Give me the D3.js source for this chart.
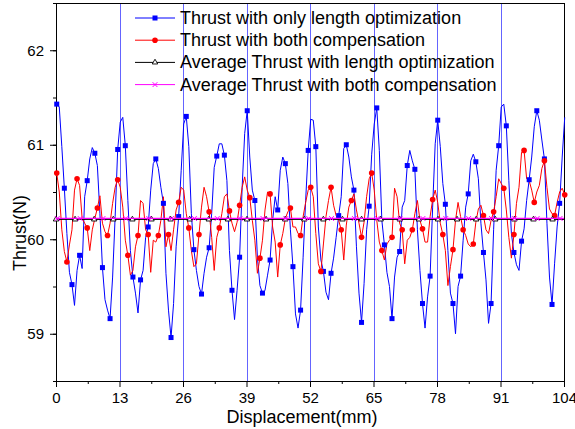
<!DOCTYPE html>
<html>
<head>
<meta charset="utf-8">
<script src="https://cdn.jsdelivr.net/npm/d3@7"></script>
<style>
  body { margin: 0; background: #fff; }
  text { font-family: "Liberation Sans", Arial, sans-serif; }
</style>
</head>
<body>
<div id="chart"></div>
<script>
// thrust samples, one every xStep mm starting at xStart
var xStart = 0.15, xStep = 0.52;

var thrustLength = [
  61.43, 61.40, 60.98, 60.54, 60.06, 59.65, 59.52, 59.30, 59.67, 59.83,
  59.69, 60.45, 60.62, 60.85, 60.97, 60.91, 60.78, 60.27, 59.70, 59.36,
  59.25, 59.16, 59.60, 60.24, 60.95, 61.24, 61.29, 60.99, 60.41, 59.88,
  59.60, 59.43, 59.22, 59.57, 59.67, 60.02, 60.13, 60.52, 60.80, 60.85,
  60.75, 60.55, 60.38, 59.64, 59.25, 58.96, 59.32, 59.92, 60.24, 60.73,
  61.22, 61.30, 60.98, 60.27, 59.89, 59.67, 59.50, 59.42, 59.64, 59.81,
  59.91, 60.27, 60.76, 60.88, 61.01, 61.01, 60.89, 60.62, 59.88, 59.46,
  59.15, 59.46, 59.81, 60.55, 61.12, 61.36, 60.87, 60.52, 60.41, 59.81,
  59.51, 59.43, 59.46, 59.62, 59.78, 60.20, 60.45, 60.31, 60.73, 60.87,
  60.80, 60.59, 60.10, 59.71, 59.21, 59.06, 59.25, 59.81, 60.41, 60.94,
  61.27, 61.26, 60.98, 60.13, 59.78, 59.66, 59.44, 59.36, 59.64, 59.80,
  60.02, 60.25, 60.45, 60.96, 61.00, 60.87, 60.66, 60.52, 59.92, 59.43,
  59.12, 59.53, 60.10, 60.35, 60.90, 61.22, 61.39, 60.94, 60.20, 59.94,
  59.65, 59.50, 59.16, 59.60, 59.81, 59.87, 60.34, 60.41, 60.78, 60.94,
  60.83, 60.74, 60.10, 59.67, 59.32, 59.06, 59.39, 59.61, 60.34, 61.01,
  61.26, 60.98, 60.59, 60.37, 59.88, 59.43, 59.32, 59.00, 59.50, 59.61,
  59.99, 60.34, 60.48, 60.83, 60.90, 60.82, 60.64, 60.17, 59.86, 59.57,
  59.11, 59.32, 60.10, 60.73, 60.99, 61.40, 61.43, 61.20, 60.62, 60.06,
  59.86, 59.73, 59.67, 59.98, 60.11, 60.41, 60.63, 60.87, 61.19, 61.36,
  61.26, 61.05, 60.85, 60.17, 59.60, 59.31, 59.74, 60.13, 60.38, 60.87,
  61.29
];

var thrustBoth = [
  60.70, 60.50, 60.10, 59.87, 59.76, 59.94, 60.10, 60.52, 60.64, 60.57,
  60.22, 60.17, 60.12, 59.88, 60.10, 60.22, 60.33, 60.46, 60.17, 60.08,
  60.04, 60.17, 60.38, 60.55, 60.63, 60.55, 60.34, 59.99, 59.83, 59.62,
  59.67, 59.92, 60.04, 60.41, 60.38, 60.10, 60.05, 59.65, 59.99, 59.97,
  60.04, 60.20, 60.45, 59.92, 60.05, 59.88, 60.10, 60.31, 60.39, 60.55,
  60.52, 60.27, 60.12, 59.88, 59.71, 59.74, 60.05, 60.34, 60.55, 60.45,
  60.29, 60.02, 59.67, 60.02, 60.12, 60.27, 60.45, 60.48, 60.30, 60.17,
  60.08, 60.18, 60.36, 60.55, 60.66, 60.52, 60.44, 60.20, 59.99, 59.64,
  59.80, 59.99, 60.31, 60.50, 60.48, 60.13, 59.97, 59.60, 59.94, 60.06,
  60.22, 60.29, 60.33, 60.13, 60.13, 60.06, 60.04, 60.24, 60.39, 60.52,
  60.55, 60.45, 60.06, 59.74, 59.66, 59.95, 60.24, 60.41, 60.55, 60.36,
  60.25, 60.20, 60.10, 59.78, 60.15, 60.34, 60.41, 60.48, 60.31, 60.17,
  60.02, 60.18, 60.45, 60.64, 60.70, 60.52, 60.20, 59.97, 59.88, 59.78,
  59.95, 59.99, 60.02, 60.54, 60.45, 60.17, 60.10, 59.74, 59.99, 60.02,
  60.10, 60.27, 60.41, 60.20, 60.11, 59.97, 59.97, 60.24, 60.42, 60.52,
  60.39, 60.17, 60.05, 59.88, 59.51, 59.71, 59.89, 60.20, 60.39, 60.24,
  60.10, 60.04, 59.95, 59.92, 59.95, 60.18, 60.32, 60.36, 60.25, 60.10,
  60.06, 60.20, 60.29, 60.45, 60.64, 60.59, 60.54, 60.31, 60.02, 59.80,
  60.05, 60.38, 60.55, 60.92, 60.94, 60.64, 60.62, 60.52, 60.39, 60.50,
  60.57, 60.75, 60.83, 60.55, 60.32, 60.27, 60.25, 60.39, 60.50, 60.54,
  60.47
];

var avgLength = 60.21;
var avgBoth = 60.22;

var xTicks = [0, 13, 26, 39, 52, 65, 78, 91, 104];
var yTicks = [59, 60, 61, 62];

var legendLabels = [
  "Thrust with only length optimization",
  "Thrust with both compensation",
  "Average Thrust with length optimization",
  "Average Thrust with both compensation"
];

var W = 575, H = 429;
var plot = {left: 56, right: 564, top: 3, bottom: 381};

var svg = d3.select("#chart").append("svg")
    .attr("width", W)
    .attr("height", H);

var xScale = d3.scaleLinear().domain([0, 104]).range([plot.left, plot.right]);
var yScale = d3.scaleLinear().domain([58.5, 62.5]).range([plot.bottom, plot.top]);

var xOf = function(d, i) { return xScale(xStart + i * xStep); };

// blue vertical grid lines
svg.append("g").selectAll("line")
    .data(xTicks.slice(1, -1))
    .enter().append("line")
    .attr("x1", d => Math.round(xScale(d)) + 0.5)
    .attr("x2", d => Math.round(xScale(d)) + 0.5)
    .attr("y1", plot.top)
    .attr("y2", plot.bottom)
    .attr("stroke", "#3030ff")
    .attr("stroke-opacity", 0.75)
    .attr("stroke-width", 1);

// axes
svg.append("g")
    .attr("transform", "translate(0," + plot.bottom + ")")
    .call(d3.axisBottom(xScale).tickValues(xTicks).tickSize(6).tickSizeOuter(0).tickPadding(5));
svg.append("g")
    .attr("transform", "translate(0," + plot.bottom + ")")
    .call(d3.axisBottom(xScale).tickValues(d3.range(6.5, 104, 13)).tickSize(3).tickSizeOuter(0).tickFormat(""));

svg.append("g")
    .attr("transform", "translate(" + plot.left + ",0)")
    .call(d3.axisLeft(yScale).tickValues(yTicks).tickFormat(d3.format("d"))
        .tickSize(6).tickSizeOuter(0).tickPadding(6));
svg.append("g")
    .attr("transform", "translate(" + plot.left + ",0)")
    .call(d3.axisLeft(yScale).tickValues(d3.range(58.5, 62.6, 0.5)).tickSize(3).tickSizeOuter(0).tickFormat(""));

svg.selectAll(".tick text")
    .attr("font-family", '"Liberation Sans", Arial, sans-serif')
    .attr("font-size", 15)
    .attr("fill", "#000");
svg.selectAll(".tick line").attr("stroke", "#000");
svg.selectAll(".domain").attr("stroke", "#000");

// frame
svg.append("rect")
    .attr("x", plot.left + 0.5)
    .attr("y", plot.top + 0.5)
    .attr("width", plot.right - plot.left)
    .attr("height", plot.bottom - plot.top)
    .attr("fill", "none")
    .attr("stroke", "#000")
    .attr("stroke-width", 1);

// axis titles
svg.append("text")
    .attr("x", 302)
    .attr("y", 423)
    .attr("text-anchor", "middle")
    .attr("font-size", 18)
    .text("Displacement(mm)");

svg.append("text")
    .attr("transform", "translate(26,233) rotate(-90)")
    .attr("text-anchor", "middle")
    .attr("font-size", 18)
    .text("Thrust(N)");

// data lines
var line = d3.line()
    .x(xOf)
    .y(d => yScale(d));

svg.append("path")
    .datum(thrustLength)
    .attr("d", line)
    .attr("fill", "none")
    .attr("stroke", "#0000ff")
    .attr("stroke-width", 1);

svg.append("path")
    .datum(thrustBoth)
    .attr("d", line)
    .attr("fill", "none")
    .attr("stroke", "#ff0000")
    .attr("stroke-width", 1);

svg.selectAll(".sq")
    .data(d3.range(0, thrustLength.length, 3))
    .enter().append("rect")
    .attr("x", i => xOf(null, i) - 2.5)
    .attr("y", i => yScale(thrustLength[i]) - 2.5)
    .attr("width", 5)
    .attr("height", 5)
    .attr("fill", "#0000ff");

svg.selectAll(".dot")
    .data(d3.range(0, thrustBoth.length, 4))
    .enter().append("circle")
    .attr("cx", i => xOf(null, i))
    .attr("cy", i => yScale(thrustBoth[i]))
    .attr("r", 2.8)
    .attr("fill", "#ff0000");

// average lines
svg.append("line")
    .attr("x1", xScale(0)).attr("x2", xScale(104))
    .attr("y1", yScale(avgLength)).attr("y2", yScale(avgLength))
    .attr("stroke", "#000").attr("stroke-width", 1);

svg.selectAll(".tri")
    .data(d3.range(0, 104, 3.91))
    .enter().append("path")
    .attr("d", d3.symbol(d3.symbolTriangle, 13))
    .attr("transform", d => "translate(" + xScale(d) + "," + yScale(avgLength) + ")")
    .attr("fill", "#fff")
    .attr("stroke", "#000")
    .attr("stroke-width", 0.9);

svg.append("line")
    .attr("x1", xScale(0)).attr("x2", xScale(104))
    .attr("y1", yScale(avgBoth)).attr("y2", yScale(avgBoth))
    .attr("stroke", "#ff00ff").attr("stroke-width", 1.2);

svg.selectAll(".xm")
    .data(d3.range(0.27, 104, 4.678))
    .enter().append("path")
    .attr("d", d3.symbol(d3.symbolX, 17))
    .attr("transform", d => "translate(" + xScale(d) + "," + yScale(avgBoth) + ")")
    .attr("fill", "none")
    .attr("stroke", "#ff00ff")
    .attr("stroke-width", 1);

// legend
var legendColors = ["#0000ff", "#ff0000", "#000000", "#ff00ff"];
var legend = svg.append("g");
legendLabels.forEach((label, k) => {
    var ly = 18 + k * 22.2;
    legend.append("line")
        .attr("x1", 135).attr("x2", 175)
        .attr("y1", ly).attr("y2", ly)
        .attr("stroke", legendColors[k]).attr("stroke-width", 1);
    if (k === 0) {
        legend.append("rect").attr("x", 152.5).attr("y", ly - 2.5)
            .attr("width", 5).attr("height", 5).attr("fill", "#0000ff");
    } else if (k === 1) {
        legend.append("circle").attr("cx", 155).attr("cy", ly).attr("r", 2.8).attr("fill", "#ff0000");
    } else if (k === 2) {
        legend.append("path").attr("d", d3.symbol(d3.symbolTriangle, 13))
            .attr("transform", "translate(155," + ly + ")")
            .attr("fill", "#fff").attr("stroke", "#000").attr("stroke-width", 0.9);
    } else {
        legend.append("path").attr("d", d3.symbol(d3.symbolX, 17))
            .attr("transform", "translate(155," + ly + ")")
            .attr("fill", "none").attr("stroke", "#ff00ff").attr("stroke-width", 1);
    }
    legend.append("text")
        .attr("x", 180)
        .attr("y", ly + 6)
        .attr("font-size", 18)
        .attr("fill", "#000")
        .text(label);
});
</script>
</body>
</html>
